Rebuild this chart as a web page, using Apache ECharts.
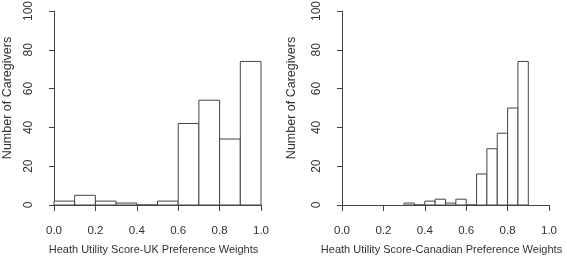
<!DOCTYPE html>
<html>
<head>
<meta charset="utf-8">
<script src="https://cdn.jsdelivr.net/npm/echarts@6/dist/echarts.min.js"></script>
<style>
  html, body { margin: 0; padding: 0; background: #fff; }
  #chart { width: 567px; height: 260px; }
</style>
</head>
<body>
<div id="chart"></div>
<script>
// histogram bins (breaks) and counts
const ukBreaks = [0.0, 0.1, 0.2, 0.3, 0.4, 0.5, 0.6, 0.7, 0.8, 0.9, 1.0]
const ukCounts = [2, 5, 2, 1, 0, 2, 42, 54, 34, 74]
const caBreaks = [0.30, 0.35, 0.40, 0.45, 0.50, 0.55, 0.60, 0.65, 0.70, 0.75, 0.80, 0.85, 0.90]
const caCounts = [1, 0, 2, 3, 1, 3, 0, 16, 29, 37, 50, 74]

const yTicks = [0, 20, 40, 60, 80, 100]
const xTitles = ['Heath Utility Score-UK Preference Weights', 'Heath Utility Score-Canadian Preference Weights']
const yTitle = 'Number of Caregivers'

const lineColor = '#444'
const textColor = '#333'
const fontFamily = '"Liberation Sans", Arial, sans-serif'

const toBins = (breaks, counts) => counts.map((c, i) => [breaks[i], breaks[i + 1], c])

const renderBin = (params, api) => {
  const p0 = api.coord([api.value(0), 0])
  const p1 = api.coord([api.value(1), api.value(2)])
  return {
    type: 'rect',
    shape: { x: p0[0], y: p1[1], width: p1[0] - p0[0], height: p0[1] - p1[1] },
    style: { fill: '#fff', stroke: lineColor, lineWidth: 1 }
  }
}

const makeX = (idx, name) => ({
  type: 'value',
  gridIndex: idx,
  min: 0,
  max: 1,
  interval: 0.2,
  offset: 9,
  name: name,
  nameLocation: 'middle',
  nameGap: 30,
  nameTextStyle: { color: textColor, fontSize: 11, fontFamily, padding: [0, 8, 0, 0] },
  axisLine: { show: true, lineStyle: { color: lineColor, width: 1 } },
  axisTick: { show: true, length: 6, lineStyle: { color: lineColor } },
  axisLabel: { color: textColor, fontSize: 11.5, fontFamily, margin: 11, formatter: v => v.toFixed(1) },
  splitLine: { show: false }
})

const makeY = (idx) => ({
  type: 'value',
  gridIndex: idx,
  min: 0,
  max: 100,
  interval: 20,
  offset: 10,
  axisLine: { show: true, lineStyle: { color: lineColor, width: 1 } },
  axisTick: { show: true, length: 5, lineStyle: { color: lineColor } },
  axisLabel: { show: false }, // drawn below as rotated text (R las=0 style)
  splitLine: { show: false }
})

const vText = (text, x, y, size) => ({
  type: 'text',
  x: x,
  y: y,
  rotation: Math.PI / 2,
  style: { text: text, fill: textColor, fontSize: size, fontFamily, align: 'center', verticalAlign: 'middle' }
})

const chart = echarts.init(document.getElementById('chart'), null, { renderer: 'canvas' })

const option = {
  animation: false,
  backgroundColor: '#fff',
  grid: [
    { left: 54, top: 11, width: 207, height: 196 },
    { left: 342, top: 11, width: 207, height: 196 }
  ],
  xAxis: [makeX(0, xTitles[0]), makeX(1, xTitles[1])],
  yAxis: [makeY(0), makeY(1)],
  series: [
    { type: 'custom', xAxisIndex: 0, yAxisIndex: 0, renderItem: renderBin, data: toBins(ukBreaks, ukCounts) },
    { type: 'custom', xAxisIndex: 1, yAxisIndex: 1, renderItem: renderBin, data: toBins(caBreaks, caCounts) }
  ]
}

chart.setOption(option)

// y tick labels + y titles, placed from the axes' own pixel mapping
const texts = [vText(yTitle, 8, 98, 12.5), vText(yTitle, 292, 98, 12.5)]
;[0, 1].forEach(i => {
  const x0 = chart.convertToPixel({ xAxisIndex: i }, 0)
  yTicks.forEach(v => {
    const y = chart.convertToPixel({ yAxisIndex: i }, v)
    texts.push(vText(String(v), x0 - 25, y, 12))
  })
})
chart.setOption({ graphic: texts })
</script>
</body>
</html>
